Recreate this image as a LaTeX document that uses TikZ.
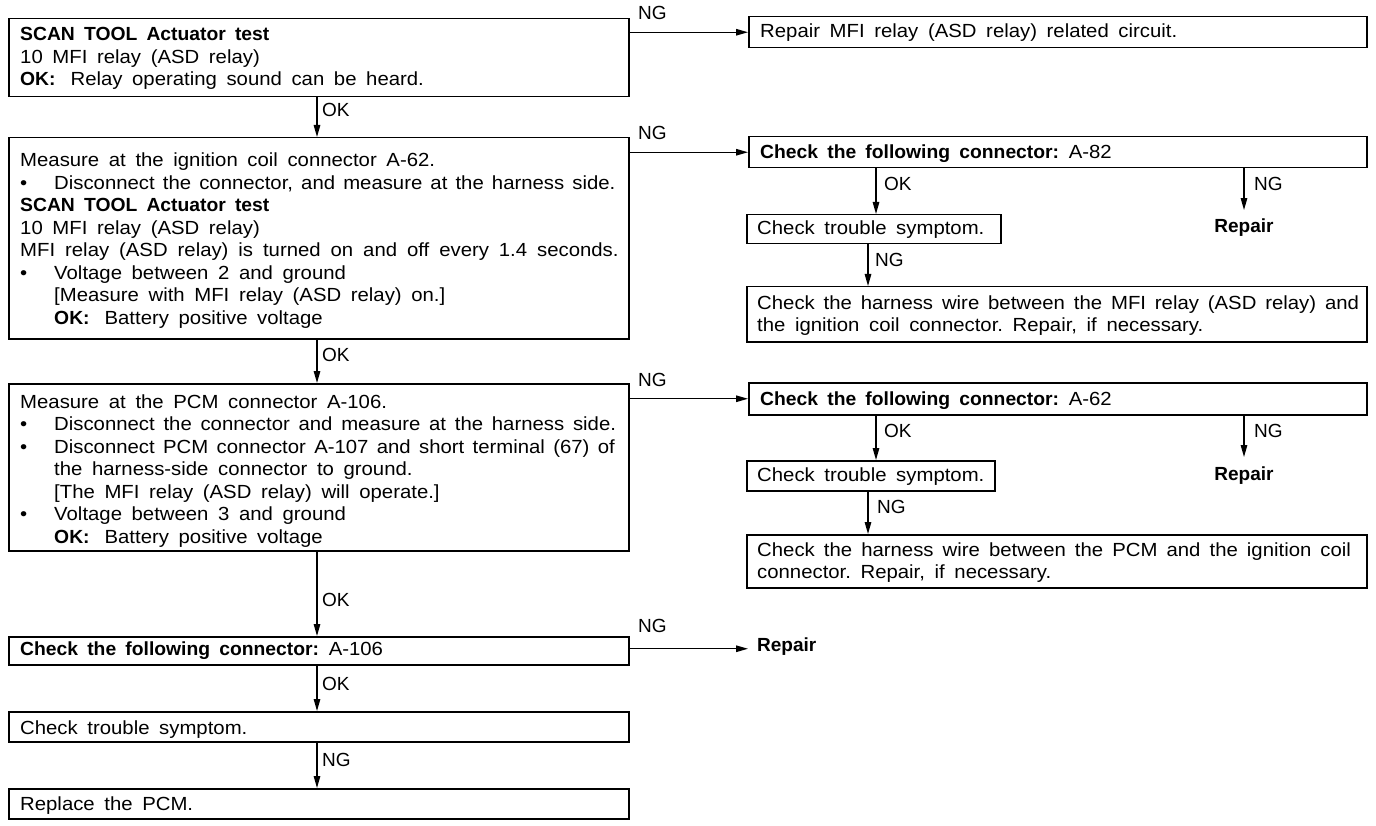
\documentclass[tikz,border=0pt]{standalone}
\usepackage{fontspec}
\usepackage{graphicx}
\setmainfont{Liberation Sans}
\newfontface\bff{Liberation Sans Bold}
\usetikzlibrary{arrows.meta}
\frenchspacing
\newcommand\myfont{\fontsize{19}{22.5}\selectfont}
\newcommand\myboldfont{\fontsize{19}{22.5}\selectfont\bff}
\newcommand\B[1]{\scalebox{0.95}[1]{\bff #1}}
\newcommand\bul{\makebox[31.8pt][l]{\textbullet}}
\newcommand\ind{\hspace*{31.8pt}}
\newcommand\okk{\B{OK:}\hspace{14pt}}
\newcommand\wsp[1]{\spaceskip=#1pt\relax}
\begin{document}
\begin{tikzpicture}[x=1pt,y=-1pt,
  box/.style={draw, line width=1.5pt, anchor=north west, inner sep=0pt},
  txt/.style={anchor=base west, inner sep=0pt, align=left, text width=600pt, xscale=1.07, transform shape, font=\myfont,
    execute at begin node={\spaceskip=9pt plus 3pt minus 2pt\relax}},
  lbl/.style={anchor=west, inner sep=0pt, font=\myfont},
  rep/.style={anchor=base, inner sep=0pt, font=\myboldfont}
]
\tikzset{arr/.style={line width=1.3pt, -{Triangle[length=12pt,width=6.5pt]}}}
\fill[white] (0,0) rectangle (1376,826);
\useasboundingbox (0,0) rectangle (1376,826);

% left column boxes
\node[box, minimum width=620pt, minimum height=78pt]  (A) at (8,18) {};
\node[box, minimum width=620pt, minimum height=201pt] (B) at (8,137) {};
\node[box, minimum width=620pt, minimum height=167pt] (C) at (8,383) {};
\node[box, minimum width=620pt, minimum height=28pt]  (D) at (8,636) {};
\node[box, minimum width=620pt, minimum height=30pt]  (E) at (8,711) {};
\node[box, minimum width=620pt, minimum height=30pt]  (F) at (8,788) {};

% right column boxes
\node[box, minimum width=618pt, minimum height=31pt] (R1) at (748,16) {};
\node[box, minimum width=618pt, minimum height=31pt] (R2) at (748,136) {};
\node[box, minimum width=254pt, minimum height=29pt] (R3) at (746,214) {};
\node[box, minimum width=620pt, minimum height=55pt] (R4) at (746,286) {};
\node[box, minimum width=618pt, minimum height=32pt] (R5) at (748,382) {};
\node[box, minimum width=248pt, minimum height=30pt] (R6) at (746,460) {};
\node[box, minimum width=620pt, minimum height=53pt] (R7) at (746,534) {};

% texts
\node[txt] (tA) at (20,41) {\B{SCAN TOOL Actuator test}\\
10 MFI relay (ASD relay)\\
\okk Relay operating sound can be heard.};

\node[txt] (tB) at (20,167) {Measure at the ignition coil connector A-62.\\
\bul {\wsp{7.6}Disconnect the connector, and measure at the harness side.}\\
\B{SCAN TOOL Actuator test}\\
10 MFI relay (ASD relay)\\
{\wsp{9.3}MFI relay (ASD relay) is turned on and off every 1.4 seconds.}\\
\bul Voltage between 2 and ground\\
\ind [Measure with MFI relay (ASD relay) on.]\\
\ind \okk Battery positive voltage};

\node[txt] (tC) at (20,408) {Measure at the PCM connector A-106.\\
\bul {\wsp{8.2}Disconnect the connector and measure at the harness side.}\\
\bul {\wsp{7.8}Disconnect PCM connector A-107 and short terminal (67) of}\\
\ind the harness-side connector to ground.\\
\ind [The MFI relay (ASD relay) will operate.]\\
\bul Voltage between 3 and ground\\
\ind \okk Battery positive voltage};

\node[txt] (tD) at (20,655) {\B{Check the following connector:} A-106};
\node[txt] (tE) at (20,734) {Check trouble symptom.};
\node[txt] (tF) at (20,810) {Replace the PCM.};

\node[txt] (tR1) at (760,38) {Repair MFI relay (ASD relay) related circuit.};
\node[txt] (tR2) at (760,159) {\B{Check the following connector:} A-82};
\node[txt] (tR3) at (757,235) {Check trouble symptom.};
\node[txt] (tR4) at (757,309) {{\wsp{8.3}Check the harness wire between the MFI relay (ASD relay) and}\\
the ignition coil connector. Repair, if necessary.};
\node[txt] (tR5) at (760,405) {\B{Check the following connector:} A-62};
\node[txt] (tR6) at (757,481) {Check trouble symptom.};
\node[txt] (tR7) at (757,556) {{\wsp{8.5}Check the harness wire between the PCM and the ignition coil}\\
connector. Repair, if necessary.};

% repair labels
\node[rep] (RpA) at (1244,233) {Repair};
\node[rep] (RpB) at (1244,480) {Repair};
\node[rep, anchor=base west] (RpC) at (757,651) {Repair};

% vertical connectors, left column
\draw[arr] ([xshift=309pt]A.south west) -- ([xshift=309pt]B.north west);
\draw[arr] ([xshift=309pt]B.south west) -- ([xshift=309pt]C.north west);
\draw[arr] ([xshift=309pt]C.south west) -- ([xshift=309pt]D.north west);
\draw[arr] ([xshift=309pt]D.south west) -- ([xshift=309pt]E.north west);
\draw[arr] ([xshift=309pt]E.south west) -- ([xshift=309pt]F.north west);
\node[lbl] (l1) at (322,110) {OK};
\node[lbl] (l2) at (322,355) {OK};
\node[lbl] (l3) at (322,600) {OK};
\node[lbl] (l4) at (322,684) {OK};
\node[lbl] (l5) at (322,760) {NG};

% horizontal connectors
\draw[arr] (A.east |- R1.west) -- (R1.west);
\draw[arr] (B.east |- R2.west) -- (R2.west);
\draw[arr] (C.east |- R5.west) -- (R5.west);
\draw[arr] ([yshift=2pt]D.east) -- ([xshift=-9pt,yshift=2pt]D.east -| RpC.west);
\node[lbl] (h1) at (638,13) {NG};
\node[lbl] (h2) at (638,133) {NG};
\node[lbl] (h3) at (638,380) {NG};
\node[lbl] (h4) at (638,626) {NG};

% right column connectors
\draw[arr] ([xshift=128pt]R2.south west) -- ([xshift=130pt]R3.north west);
\draw[arr] (R2.south -| RpA.north) -- ([yshift=9pt]RpA.north);
\draw[arr] ([xshift=122pt]R3.south west) -- ([xshift=122pt]R4.north west);
\draw[arr] ([xshift=128pt]R5.south west) -- ([xshift=130pt]R6.north west);
\draw[arr] (R5.south -| RpB.north) -- ([yshift=9pt]RpB.north);
\draw[arr] ([xshift=122pt]R6.south west) -- ([xshift=122pt]R7.north west);
\node[lbl] (r1) at (884,184) {OK};
\node[lbl] (r2) at (1254,184) {NG};
\node[lbl] (r3) at (875,260) {NG};
\node[lbl] (r4) at (884,431) {OK};
\node[lbl] (r5) at (1254,431) {NG};
\node[lbl] (r6) at (877,507) {NG};
\end{tikzpicture}
\end{document}
